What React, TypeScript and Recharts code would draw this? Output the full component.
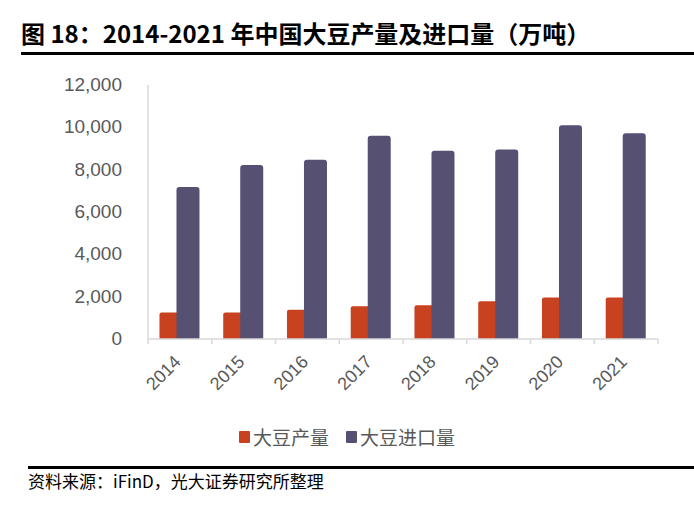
import React from 'react';
import { BarChart, Bar, XAxis, YAxis } from 'recharts';

const years = ['2014', '2015', '2016', '2017', '2018', '2019', '2020', '2021'];
const production = [1252, 1250, 1380, 1553, 1600, 1788, 1958, 1958];
const imports = [7181, 8217, 8470, 9600, 8894, 8955, 10100, 9722];
const yTicks = [0, 2000, 4000, 6000, 8000, 10000, 12000];

const data = years.map((year, i) => ({
  year,
  production: production[i],
  imports: imports[i],
}));

const AXIS_GRAY = '#d9d9d9';
const TEXT_GRAY = '#595959';
const FONT = '"Liberation Sans", Arial, sans-serif';
const CJK = '"Noto Sans CJK SC", sans-serif';

function XTick(props: any) {
  const { x, y, payload, index } = props;
  const half = payload?.offset ?? 32;
  return (
    <g>
      <line x1={x - half} y1={y - 8} x2={x - half} y2={y - 3} stroke={AXIS_GRAY} strokeWidth={1.5} />
      {index === years.length - 1 && (
        <line x1={x + half} y1={y - 8} x2={x + half} y2={y - 3} stroke={AXIS_GRAY} strokeWidth={1.5} />
      )}
      <text
        x={x + 2}
        y={y + 16}
        transform={`rotate(-45 ${x + 2} ${y + 16})`}
        textAnchor="end"
        fill={TEXT_GRAY}
        fontSize={18}
        fontFamily={FONT}
      >
        {payload.value}
      </text>
    </g>
  );
}

function YTick(props: any) {
  const { x, y, payload } = props;
  return (
    <text x={x - 18} y={y + 6} textAnchor="end" fill={TEXT_GRAY} fontSize={19} fontFamily={FONT}>
      {payload.value.toLocaleString('en-US')}
    </text>
  );
}

function LegendContent() {
  const items = [
    { label: '大豆产量', color: '#c8421f' },
    { label: '大豆进口量', color: '#565073' },
  ];
  return (
    <div style={{ display: 'flex', justifyContent: 'center', gap: 17, fontFamily: CJK, fontSize: 19, color: TEXT_GRAY }}>
      {items.map((it) => (
        <div key={it.label} style={{ display: 'flex', alignItems: 'center' }}>
          <span style={{ display: 'inline-block', width: 11, height: 12, background: it.color, marginRight: 3, borderRadius: 1 }} />
          <span>{it.label}</span>
        </div>
      ))}
    </div>
  );
}

export default function App() {
  return (
    <div style={{ position: 'absolute', left: 0, top: 0, width: 694, height: 512, background: '#fff', overflow: 'hidden' }}>
      <div
        style={{
          position: 'absolute',
          left: 21,
          top: 17,
          fontFamily: CJK,
          fontWeight: 700,
          fontSize: 24,
          lineHeight: '32px',
          color: '#000',
          whiteSpace: 'nowrap',
        }}
      >
        图 18：2014-2021 年中国大豆产量及进口量（万吨）
      </div>
      <div style={{ position: 'absolute', left: 21, top: 52, width: 673, height: 2.5, background: '#000' }} />
      <BarChart
        width={694}
        height={512}
        data={data}
        margin={{ top: 85, right: 36, left: 0, bottom: 113 }}
        barCategoryGap="18%"
        barGap={-6}
        style={{ position: 'absolute', left: 0, top: 0 }}
      >
        <XAxis
          dataKey="year"
          height={60}
          tick={<XTick />}
          tickLine={false}
          axisLine={{ stroke: AXIS_GRAY, strokeWidth: 1.5 }}
          interval={0}
        />
        <YAxis
          width={148}
          domain={[0, 12000]}
          ticks={yTicks}
          tick={<YTick />}
          tickLine={false}
          axisLine={{ stroke: AXIS_GRAY, strokeWidth: 1.5 }}
          interval={0}
        />
        <Bar dataKey="production" name="大豆产量" fill="#c8421f" radius={[2, 2, 0, 0]} isAnimationActive={false} />
        <Bar dataKey="imports" name="大豆进口量" fill="#565073" radius={[3, 3, 0, 0]} isAnimationActive={false} />
      </BarChart>
      <div style={{ position: 'absolute', left: 0, top: 423, width: 694 }}>
        <LegendContent />
      </div>
      <div style={{ position: 'absolute', left: 28, top: 466, width: 666, height: 2.5, background: '#000' }} />
      <div
        style={{
          position: 'absolute',
          left: 28,
          top: 469,
          fontFamily: CJK,
          fontSize: 17,
          lineHeight: '24px',
          color: '#000',
          whiteSpace: 'nowrap',
        }}
      >
        资料来源：iFinD，光大证券研究所整理
      </div>
    </div>
  );
}
